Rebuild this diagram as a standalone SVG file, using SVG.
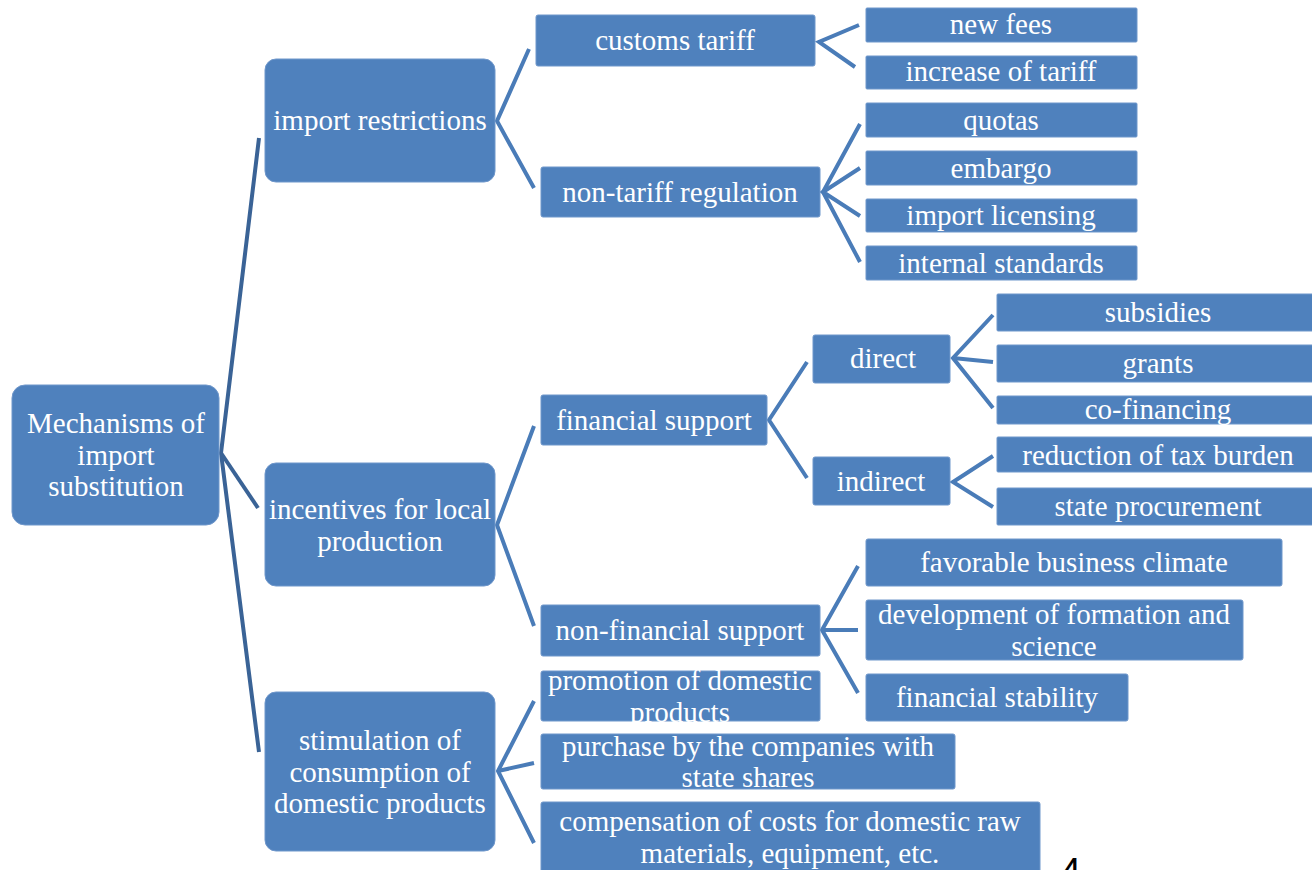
<svg xmlns="http://www.w3.org/2000/svg" width="1312" height="870" viewBox="0 0 1312 870">
  <style>
    .box { fill: #4F81BD; stroke: #6F97CB; stroke-width: 1; }
    .lbl { font-family: "Liberation Serif", "Times New Roman", serif; font-size: 29px; fill: #FFFFFF; text-anchor: middle; }
    .trunk { stroke: #3A6396; stroke-width: 4; fill: none; stroke-linecap: butt; stroke-linejoin: miter; }
    .branch { stroke: #4A7CB8; stroke-width: 4; fill: none; stroke-linecap: butt; stroke-linejoin: miter; }
    .pagenum { font-family: "Liberation Sans", Arial, sans-serif; font-size: 38px; fill: #000000; }
  </style>

  <rect width="1312" height="870" fill="#FFFFFF"/>

  <!-- connectors -->
  <g id="connectors">
    <!-- root to level 1 -->
    <polyline class="trunk" points="259,138 221,453 259,752"/>
    <polyline class="trunk" points="221,453 258,508"/>
    <!-- import restrictions -->
    <polyline class="branch" points="529,49 497,121 534,188"/>
    <!-- customs tariff -->
    <polyline class="branch" points="859,25 819,42 855,67"/>
    <!-- non-tariff regulation -->
    <polyline class="branch" points="860,124 823,192 860,262"/>
    <polyline class="branch" points="860,168 823,192 860,216"/>
    <!-- incentives for local production -->
    <polyline class="branch" points="534,426 497,525 534,626"/>
    <!-- financial support -->
    <polyline class="branch" points="807,362 769,420 807,478"/>
    <!-- direct -->
    <polyline class="branch" points="993,315 953,358 993,408"/>
    <polyline class="branch" points="953,358 993,362"/>
    <!-- indirect -->
    <polyline class="branch" points="993,456 953,482 993,507"/>
    <!-- non-financial support -->
    <polyline class="branch" points="858,566 822,630 858,693"/>
    <polyline class="branch" points="822,630 858,630"/>
    <!-- stimulation of consumption -->
    <polyline class="branch" points="534,701 498,771 534,843"/>
    <polyline class="branch" points="498,771 534,763"/>
  </g>

  <!-- root -->
  <g id="root">
    <rect class="box" x="12" y="385" width="207" height="140" rx="13"/>
    <text class="lbl" x="116" y="433">Mechanisms of</text>
    <text class="lbl" x="116" y="465">import</text>
    <text class="lbl" x="116" y="496">substitution</text>
  </g>

  <!-- level 1 -->
  <g id="import-restrictions">
    <rect class="box" x="265" y="59" width="230" height="123" rx="11"/>
    <text class="lbl" x="380" y="130">import restrictions</text>
  </g>
  <g id="incentives">
    <rect class="box" x="265" y="463" width="230" height="123" rx="11"/>
    <text class="lbl" x="380" y="519">incentives for local</text>
    <text class="lbl" x="380" y="551">production</text>
  </g>
  <g id="stimulation">
    <rect class="box" x="265" y="692" width="230" height="159" rx="11"/>
    <text class="lbl" x="380" y="750">stimulation of</text>
    <text class="lbl" x="380" y="782">consumption of</text>
    <text class="lbl" x="380" y="813">domestic products</text>
  </g>

  <!-- level 2 -->
  <g id="customs-tariff">
    <rect class="box" x="536" y="15" width="279" height="51" rx="2"/>
    <text class="lbl" x="675" y="50">customs tariff</text>
  </g>
  <g id="non-tariff-regulation">
    <rect class="box" x="541" y="167" width="279" height="50" rx="2"/>
    <text class="lbl" x="680" y="202">non-tariff regulation</text>
  </g>
  <g id="financial-support">
    <rect class="box" x="541" y="395" width="226" height="50" rx="2"/>
    <text class="lbl" x="654" y="430">financial support</text>
  </g>
  <g id="non-financial-support">
    <rect class="box" x="541" y="605" width="279" height="51" rx="2"/>
    <text class="lbl" x="680" y="640">non-financial support</text>
  </g>
  <g id="promotion">
    <rect class="box" x="541" y="671" width="279" height="50" rx="2"/>
    <text class="lbl" x="680" y="690">promotion of domestic</text>
    <text class="lbl" x="680" y="722">products</text>
  </g>
  <g id="purchase">
    <rect class="box" x="541" y="734" width="414" height="55" rx="2"/>
    <text class="lbl" x="748" y="756">purchase by the companies with</text>
    <text class="lbl" x="748" y="787">state shares</text>
  </g>
  <g id="compensation">
    <rect class="box" x="541" y="802" width="499" height="80" rx="2"/>
    <text class="lbl" x="790" y="831">compensation of costs for domestic raw</text>
    <text class="lbl" x="790" y="863">materials, equipment, etc.</text>
  </g>

  <!-- level 3: tariff and non-tariff measures -->
  <g id="new-fees">
    <rect class="box" x="866" y="8" width="271" height="34" rx="1"/>
    <text class="lbl" x="1001" y="34">new fees</text>
  </g>
  <g id="increase-of-tariff">
    <rect class="box" x="866" y="56" width="271" height="33" rx="1"/>
    <text class="lbl" x="1001" y="81">increase of tariff</text>
  </g>
  <g id="quotas">
    <rect class="box" x="866" y="103" width="271" height="34" rx="1"/>
    <text class="lbl" x="1001" y="130">quotas</text>
  </g>
  <g id="embargo">
    <rect class="box" x="866" y="151" width="271" height="34" rx="1"/>
    <text class="lbl" x="1001" y="178">embargo</text>
  </g>
  <g id="import-licensing">
    <rect class="box" x="866" y="199" width="271" height="33" rx="1"/>
    <text class="lbl" x="1001" y="225">import licensing</text>
  </g>
  <g id="internal-standards">
    <rect class="box" x="866" y="246" width="271" height="34" rx="1"/>
    <text class="lbl" x="1001" y="273">internal standards</text>
  </g>

  <!-- level 3: financial support types -->
  <g id="direct">
    <rect class="box" x="813" y="335" width="137" height="48" rx="2"/>
    <text class="lbl" x="883" y="368">direct</text>
  </g>
  <g id="indirect">
    <rect class="box" x="813" y="457" width="137" height="48" rx="2"/>
    <text class="lbl" x="881" y="491">indirect</text>
  </g>

  <!-- level 4 -->
  <g id="subsidies">
    <rect class="box" x="997" y="294" width="322" height="37" rx="1"/>
    <text class="lbl" x="1158" y="322">subsidies</text>
  </g>
  <g id="grants">
    <rect class="box" x="997" y="345" width="322" height="37" rx="1"/>
    <text class="lbl" x="1158" y="373">grants</text>
  </g>
  <g id="co-financing">
    <rect class="box" x="997" y="396" width="322" height="28" rx="1"/>
    <text class="lbl" x="1158" y="419">co-financing</text>
  </g>
  <g id="tax-burden">
    <rect class="box" x="997" y="437" width="322" height="35" rx="1"/>
    <text class="lbl" x="1158" y="465">reduction of tax burden</text>
  </g>
  <g id="state-procurement">
    <rect class="box" x="997" y="488" width="322" height="37" rx="1"/>
    <text class="lbl" x="1158" y="516">state procurement</text>
  </g>

  <!-- non-financial measures -->
  <g id="business-climate">
    <rect class="box" x="866" y="539" width="416" height="47" rx="2"/>
    <text class="lbl" x="1074" y="572">favorable business climate</text>
  </g>
  <g id="formation-science">
    <rect class="box" x="866" y="600" width="377" height="60" rx="2"/>
    <text class="lbl" x="1054" y="624">development of formation and</text>
    <text class="lbl" x="1054" y="656">science</text>
  </g>
  <g id="financial-stability">
    <rect class="box" x="866" y="674" width="262" height="47" rx="2"/>
    <text class="lbl" x="997" y="707">financial stability</text>
  </g>

  <!-- page number -->
  <text class="pagenum" x="1060" y="885">4</text>
</svg>
